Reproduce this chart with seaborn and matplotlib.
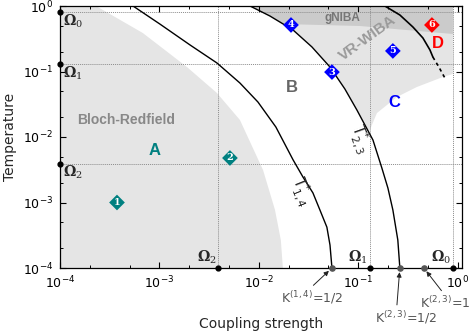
import matplotlib
matplotlib.use("Agg")
import matplotlib.pyplot as plt
from matplotlib.ticker import LogLocator, NullFormatter
import seaborn as sns
import pandas as pd

# characteristic frequencies (coupling axis / temperature axis)
omega_k = [0.89, 0.13, 0.0039]
omega_t = [0.8, 0.13, 0.0039]
omega_names = ['0', '1', '2']

# crossover couplings marked on the x axis
k_marks = [0.0542, 0.261, 0.455]
k_labels = [r'K$^{(1,4)}$=1/2', r'K$^{(2,3)}$=1/2', r'K$^{(2,3)}$=1']

# Bloch-Redfield validity boundary
br_k = [2.3e-4, 6.8e-4, 1.89e-3, 3.78e-3, 6.44e-3, 0.011, 0.0145, 0.0166, 0.0174]
br_t = [1.0, 0.387, 0.117, 0.047, 0.0182, 0.00313, 7.7e-4, 2.67e-4, 1e-4]

# crossover temperature T*_{1,4}
t14_k = [5.42e-4, 1.01e-3, 2.03e-3, 3.78e-3, 6.44e-3, 9.77e-3, 0.0148, 0.022,
         0.0277, 0.0349, 0.041, 0.0482, 0.0518, 0.0542]
t14_t = [1.0, 0.53, 0.254, 0.135, 0.0667, 0.0342, 0.0142, 0.0045,
         0.00245, 0.0014, 7.7e-4, 4.2e-4, 2.24e-4, 1e-4]

# crossover temperature T*_{2,3}
t23_k = [8.13e-3, 0.0129, 0.022, 0.0341, 0.0518, 0.0731, 0.0966, 0.14,
         0.172, 0.198, 0.222, 0.249, 0.261]
t23_t = [1.0, 0.703, 0.431, 0.237, 0.117, 0.0541, 0.0258, 0.009,
         0.00337, 0.00166, 7.7e-4, 2.67e-4, 1e-4]

# lower edge of VR-WIBA region (C)
c_k = [0.1277, 0.1535, 0.2437, 0.387, 0.706, 0.891]
c_t = [0.0119, 0.0232, 0.0408, 0.058, 0.0824, 0.0916]

# lower edge of gNIBA region
gn_k = [0.0174, 0.1035, 0.871, 0.891]
gn_t = [0.531, 0.495, 0.375, 0.372]

# boundary of region D (solid part, then dashed extrapolation)
d_k = [0.1845, 0.261, 0.353, 0.445, 0.524, 0.561]
d_t = [1.0, 0.729, 0.478, 0.325, 0.213, 0.166]
d_dash_k = [0.561, 0.644, 0.74]
d_dash_t = [0.166, 0.117, 0.0796]

# numbered working points
pt_k = [3.74e-4, 5.11e-3, 0.0542, 0.021, 0.222, 0.548]
pt_t = [1e-3, 4.78e-3, 0.098, 0.513, 0.206, 0.513]
pt_group = ['A', 'A', 'C', 'C', 'C', 'D']

# region letters
reg_names = ['A', 'B', 'C', 'D']
reg_k = [9.0e-4, 0.0215, 0.2275, 0.63]
reg_t = [6.3e-3, 0.056, 0.0342, 0.272]

group_colors = {'A': '#008080', 'B': '#666666', 'C': '#0000ff', 'D': '#ff0000'}
light_gray = '#e5e5e5'
dark_gray = '#cbcbcb'

sns.set_theme(style='ticks', rc={'axes.edgecolor': 'black', 'xtick.color': 'black',
                                 'ytick.color': 'black', 'axes.linewidth': 0.9})
plt.rcParams['font.family'] = ['DejaVu Sans']
plt.rcParams['mathtext.fontset'] = 'dejavusans'

fig = plt.figure(figsize=(4.74, 3.32), dpi=100)
ax = fig.add_axes([60 / 474, 1 - 268 / 332, 402 / 474, 262 / 332])
ax.set_xscale('log')
ax.set_yscale('log')
xmin, xmax = 1e-4, 1.1
ymin, ymax = 1e-4, 1.0
ax.set_xlim(xmin, xmax)
ax.set_ylim(ymin, ymax)

# shaded regions
ax.fill([xmin, xmin] + br_k, [ymin, ymax] + br_t, color=light_gray, lw=0, zorder=0)
light_x = t23_k[:7] + c_k + [c_k[-1]]
light_y = t23_t[:7] + c_t + [ymax]
ax.fill(light_x, light_y, color=light_gray, lw=0, zorder=0)
dark_x = t23_k[:2] + gn_k + [gn_k[-1]]
dark_y = t23_t[:2] + gn_t + [ymax]
ax.fill(dark_x, dark_y, color=dark_gray, lw=0, zorder=0)

# omega guide lines
for w in omega_k:
    ax.axvline(w, color='#8c8c8c', lw=0.7, ls=(0, (1, 1)), zorder=1)
for w in omega_t:
    ax.axhline(w, color='#8c8c8c', lw=0.7, ls=(0, (1, 1)), zorder=1)

# crossover curves
sns.lineplot(x=t14_k, y=t14_t, sort=False, estimator=None, color='black', lw=1.0, ax=ax, zorder=3)
sns.lineplot(x=t23_k, y=t23_t, sort=False, estimator=None, color='black', lw=1.0, ax=ax, zorder=3)
sns.lineplot(x=d_k, y=d_t, sort=False, estimator=None, color='black', lw=1.2, ax=ax, zorder=3)
ax.plot(d_dash_k, d_dash_t, color='black', lw=1.2, ls=(0, (2, 2)), zorder=3)

# working points
pts = pd.DataFrame({'k': pt_k, 't': pt_t, 'group': pt_group})
sns.scatterplot(data=pts, x='k', y='t', hue='group', palette=group_colors, marker='D',
                s=64, linewidth=0, legend=False, ax=ax, zorder=4)
for i, (k, t) in enumerate(zip(pt_k, pt_t)):
    ax.text(k, t, str(i + 1), color='white', fontsize=7, fontweight='bold',
            family='DejaVu Serif', ha='center', va='center', zorder=5)

# region labels
for name, k, t in zip(reg_names, reg_k, reg_t):
    ax.text(k, t, name, color=group_colors[name], fontsize=12, fontweight='bold',
            family='Liberation Sans', ha='center', va='center', zorder=5)
ax.text(4.6e-4, 0.0182, 'Bloch-Redfield', color='#888888', fontsize=10, fontweight='bold',
        family='Liberation Sans', ha='center', va='center', zorder=2)
ax.text(0.0698, 0.656, 'gNIBA', color='#777777', fontsize=8.5, fontweight='bold',
        family='Liberation Sans', ha='center', va='center', zorder=2)
ax.text(0.1245, 0.325, 'VR-WIBA', color='#9a9a9a', fontsize=11, fontweight='bold',
        family='Liberation Sans', ha='center', va='center', rotation=36, zorder=2)
ax.text(0.105, 0.0095, r'T$^{*}_{2,3}$', fontsize=11, rotation=-70,
        ha='center', va='center', zorder=5)
ax.text(0.0268, 1.5e-3, r'T$^{*}_{1,4}$', fontsize=11, rotation=-68,
        ha='center', va='center', zorder=5)

# omega markers on the axes
for w, n in zip(omega_k, omega_names):
    ax.annotate(r'$\mathbf{\Omega}_{%s}$' % n, xy=(w, ymin), xytext=(-2, 2),
                textcoords='offset pixels', ha='right', va='bottom', fontsize=10,
                math_fontfamily='dejavuserif', zorder=6)
for w, n in zip(omega_t, omega_names):
    ax.annotate(r'$\mathbf{\Omega}_{%s}$' % n, xy=(xmin, w), xytext=(3, -9),
                textcoords='offset pixels', ha='left', va='center', fontsize=10,
                math_fontfamily='dejavuserif', zorder=6)
ax.scatter(omega_k, [ymin] * 3, s=12, color='black', clip_on=False, zorder=7)
ax.scatter([xmin] * 3, omega_t, s=12, color='black', clip_on=False, zorder=7)

# crossover couplings with arrows
ax.scatter(k_marks, [ymin] * 3, s=14, color='#555555', clip_on=False, zorder=7)
offsets = [(-20, -30), (6, -50), (21, -35)]
relpos = [(0.45, 1.0), (0.35, 1.0), (0.5, 1.0)]
for k, lab, off, rp in zip(k_marks, k_labels, offsets, relpos):
    ax.annotate(lab, xy=(k, ymin), xytext=off, textcoords='offset pixels',
                ha='center', va='center', fontsize=9, color='#555555',
                annotation_clip=False,
                arrowprops=dict(arrowstyle='-|>', color='#222222', lw=0.7,
                                mutation_scale=7, shrinkA=1, shrinkB=3, relpos=rp))

ax.xaxis.set_major_locator(LogLocator(base=10, numticks=10))
ax.yaxis.set_major_locator(LogLocator(base=10, numticks=10))
ax.xaxis.set_minor_locator(LogLocator(base=10, subs=(2, 5), numticks=10))
ax.yaxis.set_minor_locator(LogLocator(base=10, subs=(2, 5), numticks=10))
ax.xaxis.set_minor_formatter(NullFormatter())
ax.yaxis.set_minor_formatter(NullFormatter())
ax.tick_params(which='both', direction='in', top=True, right=True, labelsize=9)
ax.tick_params(which='major', length=4, width=0.8, pad=5)
ax.tick_params(which='minor', length=2.2, width=0.7)

ax.set_xlabel('Coupling strength', fontsize=10, labelpad=18)
ax.set_ylabel('Temperature', fontsize=10, labelpad=4)

fig.savefig('out.png', dpi=100)
